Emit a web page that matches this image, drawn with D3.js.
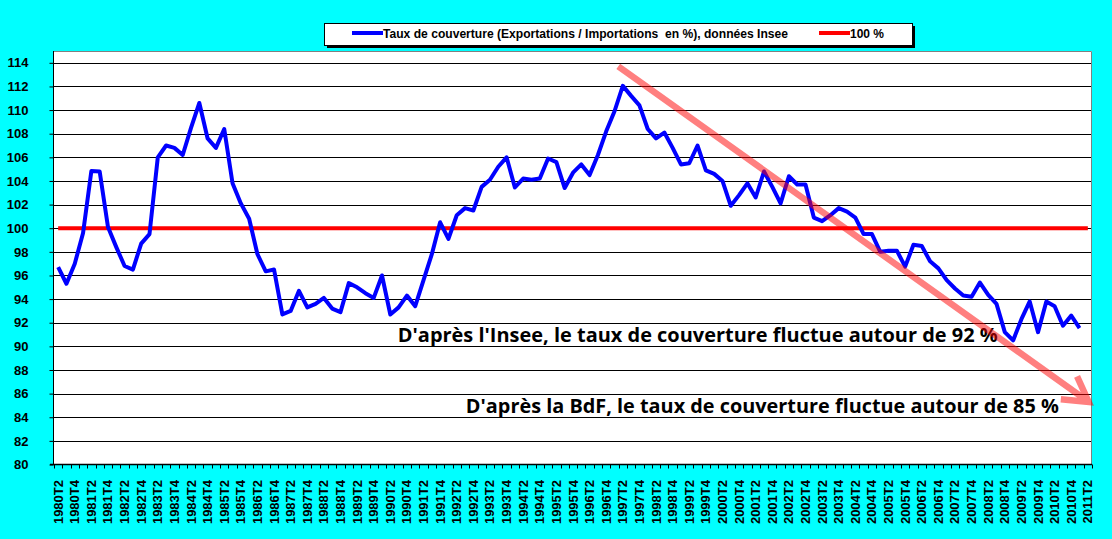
<!DOCTYPE html>
<html>
<head>
<meta charset="utf-8">
<script src="https://cdn.jsdelivr.net/npm/d3@7"></script>
<style>
  body { margin: 0; background: #00ffff; }
  svg { display: block; }
  .axisText { font-family: "Liberation Sans", Arial, sans-serif; font-weight: bold; fill: #000; }
</style>
</head>
<body>
<div id="chart"></div>
<script>
// quarters 1980T2 .. 2011T2
var categories = [];
for (var yr = 1980; yr <= 2011; yr++) {
  for (var q = 1; q <= 4; q++) {
    if (yr === 1980 && q < 2) continue;
    if (yr === 2011 && q > 2) continue;
    categories.push(yr + "T" + q);
  }
}

// Taux de couverture, données Insee (1980T2 .. 2011T1)
var tauxInsee = [
  96.7, 95.3, 97.0, 99.6, 104.85, 104.8, 100.1, 98.4, 96.8, 96.5,
  98.7, 99.5, 106.0, 107.0, 106.8, 106.2, 108.5, 110.6, 107.6, 106.8,
  108.4, 103.8, 102.1, 100.8, 97.8, 96.35, 96.5, 92.7, 93.0, 94.7,
  93.3, 93.6, 94.1, 93.2, 92.9, 95.35, 95.0, 94.5, 94.1, 96.0,
  92.7, 93.3, 94.3, 93.4, 95.6, 97.8, 100.5, 99.1, 101.1, 101.7,
  101.5, 103.5, 104.1, 105.2, 106.0, 103.45, 104.2, 104.1, 104.2, 105.9,
  105.6, 103.4, 104.7, 105.4, 104.5, 106.2, 108.2, 109.9, 112.05, 111.2,
  110.4, 108.4, 107.6, 108.1, 106.8, 105.4, 105.5, 107.0, 104.9, 104.6,
  104.0, 101.9, 102.8, 103.8, 102.6, 104.8, 103.5, 102.1, 104.4, 103.7,
  103.7, 100.9, 100.6, 101.1, 101.7, 101.4, 100.9, 99.5, 99.5, 98.0,
  98.1, 98.1, 96.75, 98.6, 98.5, 97.2, 96.6, 95.6, 94.9, 94.3,
  94.2, 95.4, 94.35, 93.6, 91.2, 90.5, 92.3, 93.8, 91.2, 93.8,
  93.4, 91.75, 92.6, 91.55
];

// 100 % reference series (every quarter)
var reference = categories.map(function() { return 100; });

var yTicks = [80, 82, 84, 86, 88, 90, 92, 94, 96, 98, 100, 102, 104, 106, 108, 110, 112, 114];

var legendLabels = ["Taux de couverture (Exportations / Importations  en %), données Insee", "100 %"];

// trend arrow: [category index, value]
var trendStart = [67.45, 113.7];
var trendEnd = [124.1, 85.3];

var notes = [
  { text: "D'après l'Insee, le taux de couverture fluctue autour de 92 %", at: [40.9, 90.35], width: 600 },
  { text: "D'après la BdF, le taux de couverture fluctue autour de 85 %", at: [49.1, 84.4], width: 593 }
];

var svgWidth = 1112;
var svgHeight = 539;

var plot = { left: 54, right: 1092, top: 51, bottom: 464.5 };

var svg = d3.select("#chart")
  .append("svg")
  .attr("width", svgWidth)
  .attr("height", svgHeight);

svg.append("rect")
  .attr("width", svgWidth)
  .attr("height", svgHeight)
  .attr("fill", "#00ffff");

var xBand = d3.scaleBand()
  .domain(categories)
  .range([plot.left, plot.right])
  .padding(0);

var xIndex = d3.scaleLinear()
  .domain([-0.5, categories.length - 0.5])
  .range([plot.left, plot.right]);

var yScale = d3.scaleLinear()
  .domain([80, 115])
  .range([plot.bottom, plot.top]);

var xc = function(c) { return xBand(c) + xBand.bandwidth() / 2; };

// plot area
svg.append("rect")
  .attr("x", plot.left)
  .attr("y", plot.top)
  .attr("width", plot.right - plot.left)
  .attr("height", plot.bottom - plot.top)
  .attr("fill", "#fff");

// gridlines
svg.append("g")
  .selectAll("line")
  .data(yTicks.filter(function(d) { return d > 80; }))
  .enter()
  .append("line")
  .attr("x1", plot.left)
  .attr("x2", plot.right)
  .attr("y1", function(d) { return Math.round(yScale(d)) + 0.5; })
  .attr("y2", function(d) { return Math.round(yScale(d)) + 0.5; })
  .attr("stroke", "#000")
  .attr("stroke-width", 1);

// plot border (top / right)
svg.append("path")
  .attr("d", "M" + plot.left + "," + (plot.top + 0.5) + "H" + (plot.right - 0.5) + "V" + plot.bottom)
  .attr("fill", "none")
  .attr("stroke", "#808080")
  .attr("stroke-width", 1);

// y axis
var yAxis = d3.axisLeft(yScale)
  .tickValues(yTicks)
  .tickSize(4)
  .tickPadding(21)
  .tickFormat(d3.format("d"));

var yG = svg.append("g")
  .attr("transform", "translate(" + (plot.left - 0.5) + ",0)")
  .call(yAxis);
yG.select(".domain").attr("stroke", "#000").attr("d", "M0," + plot.top + "V" + plot.bottom);
yG.selectAll(".tick line").attr("stroke", "#000");
yG.selectAll(".tick text")
  .attr("class", "axisText")
  .style("font-size", "13px");

// x axis: ticks on category boundaries, labels every other quarter
var boundaries = d3.range(categories.length + 1);
var xG = svg.append("g");
xG.append("line")
  .attr("x1", plot.left - 4)
  .attr("x2", plot.right)
  .attr("y1", plot.bottom)
  .attr("y2", plot.bottom)
  .attr("stroke", "#000")
  .attr("stroke-width", 1.5);
xG.selectAll("line.tick")
  .data(boundaries)
  .enter()
  .append("line")
  .attr("class", "tick")
  .attr("x1", function(d) { return Math.round(xIndex(d - 0.5)) + 0.5; })
  .attr("x2", function(d) { return Math.round(xIndex(d - 0.5)) + 0.5; })
  .attr("y1", plot.bottom)
  .attr("y2", plot.bottom + 4)
  .attr("stroke", "#000");

xG.selectAll("text")
  .data(categories.filter(function(d, i) { return i % 2 === 0; }))
  .enter()
  .append("text")
  .attr("class", "axisText")
  .attr("transform", function(d) { return "translate(" + (xc(d) + 4.5) + "," + 480 + ") rotate(-90)"; })
  .attr("text-anchor", "end")
  .style("font-size", "13px")
  .text(function(d) { return d; });

// 100 % line
var line = d3.line()
  .x(function(d, i) { return xc(categories[i]); })
  .y(function(d) { return yScale(d); });

svg.append("path")
  .datum(reference)
  .attr("d", line)
  .attr("fill", "none")
  .attr("stroke", "#ff0000")
  .attr("stroke-width", 4);

// Insee series
svg.append("path")
  .datum(tauxInsee)
  .attr("d", line)
  .attr("fill", "none")
  .attr("stroke", "#0000ff")
  .attr("stroke-width", 4)
  .attr("stroke-linejoin", "round");

// notes
svg.append("g")
  .selectAll("text")
  .data(notes)
  .enter()
  .append("text")
  .attr("x", function(d) { return xIndex(d.at[0]); })
  .attr("y", function(d) { return yScale(d.at[1]); })
  .attr("textLength", function(d) { return d.width; })
  .attr("lengthAdjust", "spacingAndGlyphs")
  .style("font-family", "'Open Sans', Lato, sans-serif")
  .style("font-weight", "bold")
  .style("font-size", "19px")
  .attr("fill", "#000")
  .text(function(d) { return d.text; });

// trend arrow
var ax0 = xIndex(trendStart[0]), ay0 = yScale(trendStart[1]);
var ax1 = xIndex(trendEnd[0]), ay1 = yScale(trendEnd[1]);
var ang = Math.atan2(ay0 - ay1, ax0 - ax1);
var headLen = 28, headAng = Math.PI / 6;
var arrowPath = d3.path();
arrowPath.moveTo(ax0, ay0);
arrowPath.lineTo(ax1, ay1);
arrowPath.moveTo(ax1 + headLen * Math.cos(ang - headAng), ay1 + headLen * Math.sin(ang - headAng));
arrowPath.lineTo(ax1, ay1);
arrowPath.lineTo(ax1 + headLen * Math.cos(ang + headAng), ay1 + headLen * Math.sin(ang + headAng));

svg.append("g")
  .attr("opacity", 0.5)
  .append("path")
  .attr("d", arrowPath.toString())
  .attr("fill", "none")
  .attr("stroke", "#ff0000")
  .attr("stroke-width", 6.5)
  .attr("stroke-linejoin", "miter");

// legend
var legend = svg.append("g").attr("transform", "translate(324,23)");
legend.append("rect")
  .attr("x", 3).attr("y", 3)
  .attr("width", 588).attr("height", 22)
  .attr("fill", "#000");
legend.append("rect")
  .attr("x", 0.5).attr("y", 0.5)
  .attr("width", 588).attr("height", 22)
  .attr("fill", "#fff")
  .attr("stroke", "#000");

var legendItems = [
  { label: legendLabels[0], color: "#0000ff", x: 28, width: 405 },
  { label: legendLabels[1], color: "#ff0000", x: 495, width: 34 }
];
legendItems.forEach(function(item) {
  legend.append("line")
    .attr("x1", item.x).attr("x2", item.x + 31)
    .attr("y1", 10).attr("y2", 10)
    .attr("stroke", item.color)
    .attr("stroke-width", 4);
  legend.append("text")
    .attr("class", "axisText")
    .attr("x", item.x + 31)
    .attr("y", 14.5)
    .attr("textLength", item.width)
    .attr("lengthAdjust", "spacingAndGlyphs")
    .style("font-size", "12px")
    .style("white-space", "pre")
    .attr("xml:space", "preserve")
    .text(item.label);
});
</script>
</body>
</html>
